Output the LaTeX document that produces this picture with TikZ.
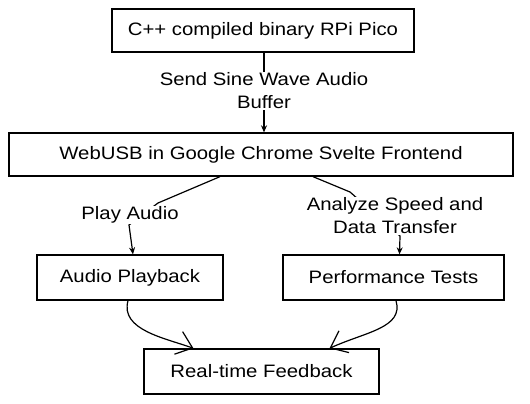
\documentclass[tikz,border=0pt]{standalone}
\usepackage{fontspec}
\setmainfont[FakeStretch=1.13]{Liberation Sans}
\usetikzlibrary{arrows.meta}
\begin{document}
\begin{tikzpicture}[x=1pt,y=-1pt,
  box/.style={draw=black, line width=1.3pt, fill=white, inner sep=0pt, font=\fontsize{18}{22}\selectfont},
  lbl/.style={fill=white, inner sep=1pt, align=center, font=\fontsize{18}{23}\selectfont},
  conn/.style={line width=1.2pt, draw=black},
  small/.style={-{Stealth[length=7pt,width=6pt]}},
  big/.style={-{Straight Barb[length=15pt,width=24pt,line width=1.2pt]}}
]
\useasboundingbox (0,0) rectangle (530,404);
% boxes
\node[box, minimum width=302pt, minimum height=43pt] (pico) at (263,30.5) {C++ compiled binary RPi Pico};
\node[box, minimum width=504pt, minimum height=43pt] (web) at (261,154.5) {WebUSB in Google Chrome Svelte Frontend};
\node[box, minimum width=186pt, minimum height=45pt] (play) at (130,277.5) {Audio Playback};
\node[box, minimum width=221pt, minimum height=45pt] (perf) at (393.5,277.5) {Performance Tests};
\node[box, minimum width=235pt, minimum height=45pt] (rt) at (261.5,371.5) {Real-time Feedback};
% connector coordinates
\coordinate (w1) at ([xshift=-41pt]web.south);
\coordinate (w2) at ([xshift=52pt]web.south);
\coordinate (p1) at ([xshift=3pt]play.north);
\coordinate (q1) at ([xshift=6pt]perf.north);
% edge 1
\draw[conn, small] (pico.south -| 264,0) -- (web.north -| 264,0);
\node[lbl] (l1) at (264,91) {Send Sine Wave Audio\\Buffer};
% edge 2
\draw[conn, small] (w1) -- (158,203) -- (129,225) -- (p1);
\node[lbl] (l2) at (130,215) {Play Audio};
% edge 3
\draw[conn, small] (w2) -- (350,192) -- (400,236) -- (q1);
\node[lbl] (l3) at (395,216) {Analyze Speed and\\Data Transfer};
% edges to feedback
\draw[conn, big] (play.south -| 128,0) .. controls (120,330) and (165,338) .. ([xshift=-68pt]rt.north);
\draw[conn, big] (perf.south -| 396,0) .. controls (404,328) and (365,332) .. ([xshift=68pt]rt.north);
\end{tikzpicture}
\end{document}
